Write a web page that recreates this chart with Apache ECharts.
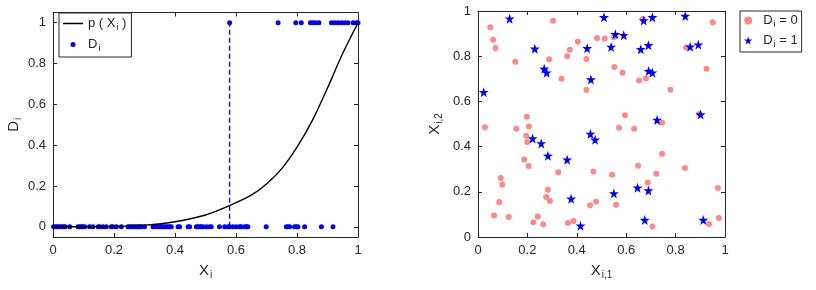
<!DOCTYPE html>
<html>
<head>
<meta charset="utf-8">
<script src="https://cdn.jsdelivr.net/npm/echarts@6/dist/echarts.min.js"></script>
<style>
html, body { margin: 0; background: #fff; }
#main { width: 816px; height: 290px; }
</style>
</head>
<body>
<div id="main"></div>
<script>
// left panel: observations with D = 0 and D = 1
var xZero = [0.002, 0.008, 0.013, 0.019, 0.024, 0.03, 0.035, 0.04, 0.055, 0.082, 0.087, 0.093, 0.098, 0.104,
    0.12, 0.131, 0.148, 0.153, 0.164, 0.175, 0.191, 0.197, 0.208, 0.224, 0.246, 0.251, 0.257, 0.262, 0.268,
    0.273, 0.279, 0.284, 0.29, 0.3, 0.328, 0.333, 0.344, 0.35, 0.355, 0.36, 0.366, 0.372, 0.377, 0.383, 0.388,
    0.41, 0.415, 0.443, 0.448, 0.47, 0.475, 0.481, 0.486, 0.492, 0.503, 0.514, 0.519, 0.546, 0.563, 0.574,
    0.579, 0.59, 0.601, 0.612, 0.617, 0.628, 0.634, 0.639, 0.699, 0.765, 0.77, 0.776, 0.792, 0.798, 0.803,
    0.825, 0.88, 0.918];
var xOne = [0.579, 0.738, 0.796, 0.814, 0.844, 0.852, 0.861, 0.872, 0.913, 0.923, 0.934, 0.945, 0.956,
    0.967, 0.984, 0.995, 1.0];
// p(X) curve
var curveX = [0, 0.1, 0.2, 0.3, 0.4, 0.5, 0.58, 0.65, 0.7, 0.75, 0.8, 0.85, 0.9, 0.95, 1];
var curveY = [0, 0.0005, 0.002, 0.008, 0.025, 0.058, 0.105, 0.155, 0.21, 0.285, 0.39, 0.52, 0.68, 0.85, 1.0];
var cutX = 0.579;

// right panel
var red = [[0.050, 0.928], [0.061, 0.873], [0.071, 0.836], [0.151, 0.775], [0.304, 0.957], [0.288, 0.787],
    [0.338, 0.700], [0.361, 0.800], [0.372, 0.829], [0.404, 0.864], [0.439, 0.788], [0.439, 0.651],
    [0.482, 0.881], [0.198, 0.532], [0.513, 0.878], [0.551, 0.884], [0.667, 0.965], [0.951, 0.950],
    [0.843, 0.838], [0.552, 0.752], [0.585, 0.727], [0.652, 0.692], [0.680, 0.701], [0.779, 0.652],
    [0.925, 0.744], [0.595, 0.539], [0.745, 0.505], [0.895, 0.544], [0.028, 0.486], [0.155, 0.479],
    [0.206, 0.489], [0.195, 0.448], [0.199, 0.420], [0.187, 0.343], [0.205, 0.314], [0.092, 0.261],
    [0.098, 0.231], [0.086, 0.155], [0.065, 0.095], [0.124, 0.088], [0.224, 0.065], [0.242, 0.091],
    [0.264, 0.056], [0.283, 0.209], [0.276, 0.177], [0.291, 0.159], [0.325, 0.287], [0.364, 0.062],
    [0.387, 0.071], [0.467, 0.290], [0.454, 0.140], [0.478, 0.156], [0.571, 0.483], [0.632, 0.479],
    [0.745, 0.368], [0.648, 0.315], [0.543, 0.275], [0.722, 0.280], [0.838, 0.305], [0.687, 0.241],
    [0.971, 0.217], [0.559, 0.143], [0.706, 0.046], [0.935, 0.057], [0.975, 0.084]];
var blue = [[0.128, 0.966], [0.023, 0.641], [0.230, 0.833], [0.268, 0.744], [0.278, 0.727], [0.442, 0.835],
    [0.457, 0.697], [0.510, 0.972], [0.671, 0.958], [0.706, 0.972], [0.839, 0.978], [0.556, 0.897],
    [0.590, 0.893], [0.539, 0.841], [0.659, 0.831], [0.690, 0.848], [0.859, 0.842], [0.892, 0.851],
    [0.691, 0.734], [0.706, 0.727], [0.725, 0.518], [0.901, 0.542], [0.221, 0.436], [0.256, 0.414],
    [0.283, 0.359], [0.361, 0.342], [0.377, 0.169], [0.415, 0.050], [0.455, 0.456], [0.474, 0.430],
    [0.550, 0.193], [0.646, 0.218], [0.690, 0.206], [0.675, 0.075], [0.912, 0.075]];

var tickLabels = ['0', '0.2', '0.4', '0.6', '0.8', '1'];

var ink = '#262626';
var font = 'Liberation Sans, Arial, sans-serif';
var star = 'path://M50,0 L61.8,35.1 L98.9,35.5 L69.1,57.6 L79.4,93.5 L50,72 L20.6,93.5 L30.9,57.6 L1.1,35.5 L38.2,35.1 Z';

function tickFmt(v) {
    var k = Math.round(v * 5);
    if (Math.abs(v * 5 - k) > 1e-6 || k < 0 || k > 5) return '';
    return tickLabels[k];
}

var subRich = {
    n: { fontSize: 15, color: ink, fontFamily: font },
    s: { fontSize: 10, color: ink, fontFamily: font, padding: [9, 0, 0, 1] }
};
var legRich = {
    n: { fontSize: 13, color: ink, fontFamily: font },
    s: { fontSize: 9, color: ink, fontFamily: font, padding: [8, 0, 0, 1] }
};

function axis(grid, pos, min, max, label, name, gap, rot) {
    var a = {
        type: 'value', gridIndex: grid, position: pos, min: min, max: max, splitNumber: 5,
        splitLine: { show: false },
        axisLine: { show: true, onZero: false, lineStyle: { color: ink, width: 1 } },
        axisTick: { show: true, inside: true, length: 4, lineStyle: { color: ink } },
        axisLabel: { show: label, color: ink, fontSize: 13, fontFamily: font, margin: 7, formatter: tickFmt }
    };
    if (name) {
        a.name = name;
        a.nameLocation = 'middle';
        a.nameGap = gap;
        a.nameRotate = rot;
        a.nameTextStyle = { rich: subRich };
    }
    return a;
}

var chart = echarts.init(document.getElementById('main'));
var option = {
    animation: false,
    textStyle: { fontFamily: font },
    grid: [
        { left: 53, right: 458, top: 12.5, bottom: 53 },
        { left: 478, right: 91, top: 11, bottom: 53 }
    ],
    xAxis: [
        axis(0, 'bottom', 0, 1, true, '{n|X}{s|i}', 24, 0),
        axis(0, 'top', 0, 1, false),
        axis(1, 'bottom', 0, 1, true, '{n|X}{s|i,1}', 24, 0),
        axis(1, 'top', 0, 1, false)
    ],
    yAxis: [
        axis(0, 'left', -0.05, 1.05, true, '{n|D}{s|i}', 30, 90),
        axis(0, 'right', -0.05, 1.05, false),
        axis(1, 'left', 0, 1, true, '{n|X}{s|i,2}', 34, 90),
        axis(1, 'right', 0, 1, false)
    ],
    legend: [
        {
            orient: 'vertical', left: 59, top: 13,
            backgroundColor: '#fff', borderColor: ink, borderWidth: 1, borderRadius: 0,
            padding: [4, 5, 4, 4], itemGap: 6, itemWidth: 20, itemHeight: 5,
            data: [
                { name: 'p', icon: 'path://M0,0 L40,0 L40,3 L0,3 Z', itemStyle: { color: '#000' } },
                { name: 'D', icon: 'circle' }
            ],
            formatter: function (name) {
                return name === 'p' ? '{n|p ( X}{s|i}{n| )}' : '{n|D}{s|i}';
            },
            textStyle: { rich: legRich }
        },
        {
            orient: 'vertical', left: 740, top: 11,
            backgroundColor: '#fff', borderColor: ink, borderWidth: 1, borderRadius: 0,
            padding: [3, 4, 3, 4], itemGap: 5, itemWidth: 20, itemHeight: 8,
            data: [{ name: 'D0', icon: 'circle' }, { name: 'D1', icon: star }],
            formatter: function (name) {
                return name === 'D0' ? '{n|D}{s|i}{n| = 0}' : '{n|D}{s|i}{n| = 1}';
            },
            textStyle: { rich: legRich }
        }
    ],
    series: [
        {
            name: 'p', type: 'line', xAxisIndex: 0, yAxisIndex: 0, symbol: 'none', smooth: 0.3,
            lineStyle: { color: '#000', width: 1.4 }, itemStyle: { color: '#000' },
            data: curveX.map(function (x, i) { return [x, curveY[i]]; })
        },
        {
            name: 'cut', type: 'line', xAxisIndex: 0, yAxisIndex: 0, symbol: 'none',
            lineStyle: { color: '#0000ff', width: 1.3, type: [5, 3] },
            data: [[cutX, 0], [cutX, 1]]
        },
        {
            name: 'D', type: 'scatter', xAxisIndex: 0, yAxisIndex: 0, symbolSize: 5,
            itemStyle: { color: '#0000ff', opacity: 1 },
            data: xZero.map(function (x) { return [x, 0]; })
        },
        {
            name: 'D', type: 'scatter', xAxisIndex: 0, yAxisIndex: 0, symbolSize: 5,
            itemStyle: { color: '#0000ff', opacity: 1 },
            data: xOne.map(function (x) { return [x, 1]; })
        },
        {
            name: 'D0', type: 'scatter', xAxisIndex: 2, yAxisIndex: 2, symbolSize: 6,
            itemStyle: { color: '#ff8888', opacity: 1 },
            data: red
        },
        {
            name: 'D1', type: 'scatter', xAxisIndex: 2, yAxisIndex: 2, symbolSize: 10,
            symbol: star,
            itemStyle: { color: '#0000ff', opacity: 1 },
            data: blue
        }
    ]
};
chart.setOption(option);
</script>
</body>
</html>
